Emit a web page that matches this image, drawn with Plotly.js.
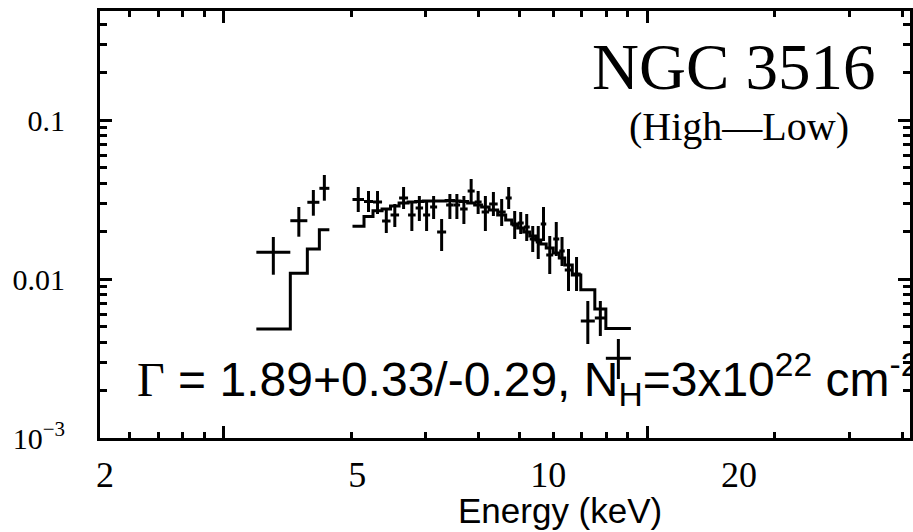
<!DOCTYPE html>
<html>
<head>
<meta charset="utf-8">
<script src="https://cdn.plot.ly/plotly-3.0.1.min.js"></script>
<style>html,body{margin:0;padding:0;background:#fff;}#chart{width:913px;height:532px;}</style>
</head>
<body>
<div id="chart"></div>
<script>
// Spectral bins (keV): lower and upper energy edge of each bin
const eLo = [3.465, 3.920, 4.170, 4.356,
  4.913, 5.123, 5.293, 5.470, 5.641, 5.819, 6.012, 6.179, 6.349, 6.513,
  6.681, 6.903, 7.094, 7.263, 7.464, 7.657, 7.853, 8.070, 8.324, 8.570,
  8.759, 8.952, 9.150, 9.352, 9.558, 9.734, 9.930, 10.186, 10.411, 10.621,
  10.915, 11.258, 11.846, 12.330];
const eHi = [3.920, 4.170, 4.356, 4.517,
  5.123, 5.293, 5.470, 5.641, 5.819, 6.012, 6.179, 6.349, 6.513, 6.681,
  6.903, 7.094, 7.263, 7.464, 7.657, 7.853, 8.070, 8.324, 8.570, 8.759,
  8.952, 9.150, 9.352, 9.558, 9.734, 9.930, 10.186, 10.411, 10.621, 10.915,
  11.258, 11.846, 12.330, 13.503];
// Difference spectrum (High - Low): value and error-bar ends
const flux = [0.01472, 0.02326, 0.03037, 0.03718,
  0.03162, 0.03072, 0.03050, 0.02316, 0.02527, 0.03232, 0.02527, 0.02796, 0.02527, 0.02837,
  0.01975, 0.02920, 0.02920, 0.02756, 0.03576, 0.03050, 0.02639, 0.02963, 0.02639, 0.03232,
  0.02186, 0.02250, 0.02123, 0.01785, 0.01709, 0.02218, 0.01416, 0.01785, 0.01500, 0.01139,
  0.01075, 0.005443, 0.005685, 0.003172];
const fluxHi = [0.01837, 0.02837, 0.03629, 0.04510,
  0.03790, 0.03576, 0.03576, 0.02756, 0.02963, 0.03790, 0.03094, 0.03327, 0.03050, 0.03327,
  0.02384, 0.03424, 0.03424, 0.03327, 0.04256, 0.03576, 0.03327, 0.03525, 0.03185, 0.03790,
  0.02677, 0.02639, 0.02563, 0.02154, 0.02154, 0.02837, 0.01864, 0.02283, 0.01837, 0.01544,
  0.01375, 0.007272, 0.007272, 0.004194];
const fluxLo = [0.01064, 0.01845, 0.02501, 0.03108,
  0.02639, 0.02639, 0.02563, 0.01947, 0.02123, 0.02756, 0.02004, 0.02316, 0.02004, 0.02384,
  0.01500, 0.02384, 0.02384, 0.02218, 0.02963, 0.02563, 0.02004, 0.02490, 0.02154, 0.02756,
  0.01785, 0.01919, 0.01734, 0.01478, 0.01336, 0.01734, 0.01075, 0.01395, 0.01207, 0.008404,
  0.008404, 0.003901, 0.004380, 0.002350];
// Folded model per bin
const model = [0.004849, 0.01086, 0.01544, 0.02042,
  0.02145, 0.02472, 0.02689, 0.02756, 0.02878, 0.03006, 0.03050, 0.03072, 0.03094, 0.03094,
  0.03094, 0.03117, 0.03094, 0.03072, 0.03006, 0.02920, 0.02837, 0.02716, 0.02527, 0.02350,
  0.02218, 0.02093, 0.01975, 0.01864, 0.01759, 0.01660, 0.01567, 0.01457, 0.01356, 0.01225,
  0.01060, 0.008564, 0.006477, 0.004884];

// Axis tick labels
const xTickVals = [2, 5, 10, 20];
const xTickText = ['2', '5', '10', '20'];
const yTickVals = [0.001, 0.01, 0.1];
const yTickText = ['10<sup>−3</sup>', '0.01', '0.1'];
const yMinorVals = [0.002,0.003,0.004,0.005,0.006,0.007,0.008,0.009,
                    0.02,0.03,0.04,0.05,0.06,0.07,0.08,0.09,0.2,0.3,0.4];
const frameMajor = [1, 10];
const frameMinor = [0.6,0.7,0.8,0.9,2,3,4,5,6,7,8,9,20,30,40];

// derived
const eMid = eLo.map((lo, i) => Math.sqrt(lo * eHi[i]));
const mx = [], my = [];
for (let i = 0; i < eLo.length; i++) {
  if (i > 0 && eLo[i] !== eHi[i - 1]) {
    mx.push(eHi[i - 1]); my.push(model[i - 1]);
    mx.push(null); my.push(null);
  }
  mx.push(eLo[i]); my.push(model[i]);
}
mx.push(eHi[eHi.length - 1]); my.push(model[model.length - 1]);

const traces = [
  {
    type: 'scatter', mode: 'lines', x: mx, y: my,
    line: {color: 'black', width: 3, shape: 'hv'},
    connectgaps: false, hoverinfo: 'skip'
  },
  {
    type: 'scatter', mode: 'markers', x: eMid, y: flux,
    marker: {size: 1, color: 'black'},
    error_x: {type: 'data', symmetric: false,
      array: eHi.map((h, i) => h - eMid[i]),
      arrayminus: eLo.map((l, i) => eMid[i] - l),
      thickness: 3, width: 0, color: 'black'},
    error_y: {type: 'data', symmetric: false,
      array: fluxHi.map((h, i) => h - flux[i]),
      arrayminus: fluxLo.map((l, i) => flux[i] - l),
      thickness: 3, width: 0, color: 'black'}
  },
  // empty trace so the frame (tick) axis x2 is drawn
  {type: 'scatter', mode: 'lines', x: [], y: [], xaxis: 'x2', yaxis: 'y', hoverinfo: 'skip'}
];

const serif = 'Liberation Serif, Times New Roman, serif';
const sans = 'Liberation Sans, Arial, sans-serif';

const layout = {
  width: 913, height: 532,
  margin: {l: 100, r: 3, t: 11, b: 94, pad: 0},
  paper_bgcolor: 'white', plot_bgcolor: 'white',
  showlegend: false,
  xaxis: {
    type: 'log', range: [0.2931, 1.5707],
    tickmode: 'array', tickvals: xTickVals, ticktext: xTickText,
    ticks: '', showline: false, showgrid: false, zeroline: false,
    tickfont: {family: serif, size: 36, color: 'black'},
    ticklabelstandoff: 12
  },
  xaxis2: {
    type: 'log', overlaying: 'x', anchor: 'y', side: 'bottom',
    range: [-0.2924, 1.6201], autorange: false,
    tickmode: 'array', tickvals: frameMajor, showticklabels: false,
    ticks: 'inside', ticklen: 12, tickwidth: 3, tickcolor: 'black',
    minor: {tickmode: 'array', tickvals: frameMinor, ticks: 'inside', ticklen: 6,
            tickwidth: 3, tickcolor: 'black', showgrid: false},
    showline: true, linewidth: 3, linecolor: 'black', mirror: 'ticks',
    showgrid: false, zeroline: false
  },
  yaxis: {
    type: 'log', range: [-3, -0.3145],
    tickmode: 'array', tickvals: yTickVals, ticktext: yTickText,
    ticks: 'inside', ticklen: 12, tickwidth: 3, tickcolor: 'black',
    minor: {tickmode: 'array', tickvals: yMinorVals, ticks: 'inside', ticklen: 7,
            tickwidth: 3, tickcolor: 'black', showgrid: false},
    showline: true, linewidth: 3, linecolor: 'black', mirror: 'ticks',
    showgrid: false, zeroline: false,
    tickfont: {family: serif, size: 30, color: 'black'},
    ticklabelstandoff: 26
  },
  annotations: [
    {text: 'NGC 3516', xref: 'paper', yref: 'paper', x: 0.9605, y: 0.8700,
     xanchor: 'right', yanchor: 'middle', showarrow: false,
     font: {family: serif, size: 65, color: 'black'}},
    {text: '(High—Low)', xref: 'paper', yref: 'paper', x: 0.7895, y: 0.7290,
     xanchor: 'center', yanchor: 'middle', showarrow: false,
     font: {family: serif, size: 40, color: 'black'}},
    {text: '<span style="font-family:\'Liberation Serif\'">Γ</span> = 1.89+0.33/-0.29, N<sub>H</sub>=3x10<sup>22</sup> cm<sup>-2</sup>',
     xref: 'paper', yref: 'paper', x: 0.0432, y: 0.138,
     xanchor: 'left', yanchor: 'middle', showarrow: false,
     font: {family: sans, size: 48, color: 'black'}},
    {text: 'Energy (keV)', xref: 'paper', yref: 'paper', x: 0.568, y: -0.170,
     xanchor: 'center', yanchor: 'middle', showarrow: false,
     font: {family: sans, size: 35, color: 'black'}}
  ]
};

Plotly.newPlot('chart', traces, layout, {staticPlot: true, displayModeBar: false});
</script>
</body>
</html>
